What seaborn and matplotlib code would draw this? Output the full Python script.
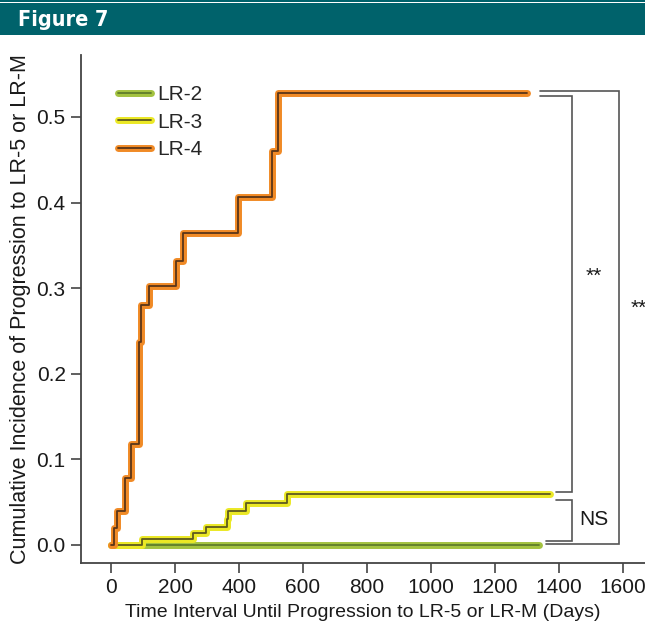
import numpy as np
import pandas as pd
import seaborn as sns
import matplotlib.pyplot as plt
import matplotlib.patheffects as pe
from matplotlib.patches import Rectangle

# step curves (days, cumulative incidence)
lr2_days = [0, 1337]
lr2_vals = [0.0, 0.0]

lr3_days = [0, 98, 255, 297, 361, 367, 422, 549, 1372]
lr3_vals = [0.0, 0.007, 0.014, 0.021, 0.030, 0.040, 0.049, 0.059, 0.059]

lr4_days = [0, 9, 20, 42, 61, 63, 88, 93, 117, 202, 226, 398, 503, 523, 1300]
lr4_vals = [0.0, 0.020, 0.040, 0.078, 0.097, 0.118, 0.2375, 0.280, 0.303,
            0.332, 0.365, 0.407, 0.460, 0.528, 0.528]

groups = ['LR-2', 'LR-3', 'LR-4']
outer_colors = {'LR-2': '#a3c240', 'LR-3': '#ebe825', 'LR-4': '#f08a26'}
inner_colors = {'LR-2': '#5f7d2a', 'LR-3': '#5e5a1e', 'LR-4': '#5a3518'}

x_ticks = [0, 200, 400, 600, 800, 1000, 1200, 1400, 1600]
y_ticks = [0.0, 0.1, 0.2, 0.3, 0.4, 0.5]

df = pd.concat([
    pd.DataFrame({'days': lr2_days, 'ci': lr2_vals, 'group': 'LR-2'}),
    pd.DataFrame({'days': lr3_days, 'ci': lr3_vals, 'group': 'LR-3'}),
    pd.DataFrame({'days': lr4_days, 'ci': lr4_vals, 'group': 'LR-4'}),
], ignore_index=True)

sns.set_style('ticks')
plt.rcParams['font.family'] = ['Liberation Sans', 'DejaVu Sans']

fig = plt.figure(figsize=(6.45, 6.22), dpi=100)
ax = fig.add_axes([0.1256, 0.0949, 0.8744, 0.8167])

sns.lineplot(data=df, x='days', y='ci', hue='group', hue_order=groups,
             palette=inner_colors, estimator=None, drawstyle='steps-post',
             linewidth=1.3, ax=ax, legend=True)

glow = 5.0
for line, g in zip(ax.get_lines(), groups):
    line.set_path_effects([pe.Stroke(linewidth=glow, foreground=outer_colors[g]),
                           pe.Normal()])
    line.set_solid_capstyle('round')

ax.set_xlim(-94, 1669)
ax.set_ylim(-0.021, 0.5724)
ax.set_xticks(x_ticks)
ax.set_yticks(y_ticks)
ax.set_yticklabels([f'{v:.1f}' for v in y_ticks])
ax.tick_params(axis='both', labelsize=15, length=7, width=1.2,
               color='#444444', labelcolor='#1a1a1a', pad=4)
for s in ['top', 'right']:
    ax.spines[s].set_visible(False)
for s in ['left', 'bottom']:
    ax.spines[s].set_color('#444444')
    ax.spines[s].set_linewidth(1.3)

ax.set_xlabel('Time Interval Until Progression to LR-5 or LR-M (Days)',
              fontsize=14, color='#1a1a1a', labelpad=5)
ax.set_ylabel('Cumulative Incidence of Progression to LR-5 or LR-M',
              fontsize=15.5, color='#1a1a1a', labelpad=4)

leg = ax.legend(title=None, frameon=False, loc='upper left', fontsize=15,
                handlelength=1.6, handletextpad=0.3, labelspacing=0.42,
                borderaxespad=0.3)
leg.set_bbox_to_anchor((0.04, 0.97), transform=ax.transAxes)
for h, g in zip(leg.get_lines(), groups):
    h.set_path_effects([pe.Stroke(linewidth=glow, foreground=outer_colors[g]),
                        pe.Normal()])
    h.set_solid_capstyle('round')

# significance brackets
top4 = max(lr4_vals)
top3 = max(lr3_vals)
top2 = max(lr2_vals)
bc = '#555555'
kw = dict(color=bc, lw=1.2, clip_on=False, solid_joinstyle='miter')
ax.plot([1341, 1440, 1440, 1390], [top4 - 0.003, top4 - 0.003, top3 + 0.003, top3 + 0.003], **kw)
ax.plot([1390, 1440, 1440, 1359], [top3 - 0.006, top3 - 0.006, top2 + 0.005, top2 + 0.005], **kw)
ax.plot([1341, 1588, 1588, 1359], [top4 + 0.002, top4 + 0.002, top2 + 0.001, top2 + 0.001], **kw)
ax.text(1509, (top4 + top3) / 2 + 0.02, '**', fontsize=15, ha='center', va='center', color='#1a1a1a')
ax.text(1509, (top3 + top2) / 2, 'NS', fontsize=15, ha='center', va='center', color='#1a1a1a')
ax.text(1648, top4 / 2 + 0.012, '**', fontsize=15, ha='center', va='center',
        color='#1a1a1a', clip_on=False)

# header banner
fig.patches.append(Rectangle((0, 1 - 35 / 622), 1, 32 / 622, transform=fig.transFigure,
                             facecolor='#00626b', edgecolor='none', zorder=0))
fig.patches.append(Rectangle((0, 1 - 1.5 / 622), 1, 1.5 / 622, transform=fig.transFigure,
                             facecolor='#00626b', edgecolor='none', zorder=0))
fig.text(0.028, 1 - 19.5 / 622, 'Figure 7', color='white', fontsize=15.5, fontweight='bold',
         family='DejaVu Sans', fontstretch='condensed', ha='left', va='center')

fig.savefig('out.png', dpi=100)
